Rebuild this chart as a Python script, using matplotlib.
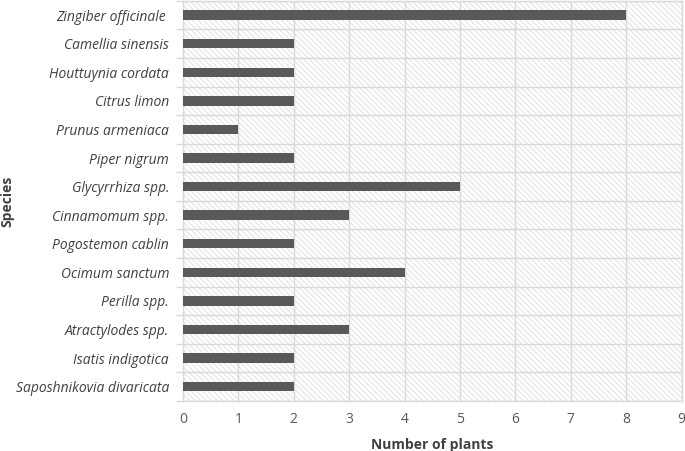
import numpy as np
import matplotlib.pyplot as plt
from matplotlib.patches import Rectangle

# Species, top to bottom as shown
species = ['Zingiber officinale ', 'Camellia sinensis', 'Houttuynia cordata',
           'Citrus limon', 'Prunus armeniaca', 'Piper nigrum',
           'Glycyrrhiza spp.', 'Cinnamomum spp.', 'Pogostemon cablin',
           'Ocimum sanctum', 'Perilla spp.', 'Atractylodes spp.',
           'Isatis indigotica', 'Saposhnikovia divaricata']
plants = [8, 2, 2, 2, 1, 2, 5, 3, 2, 4, 2, 3, 2, 2]
xticks = list(range(0, 10))

plt.rcParams['font.family'] = ['Open Sans', 'DejaVu Sans']
plt.rcParams['hatch.linewidth'] = 0.7

fig = plt.figure(figsize=(6.85, 4.51), dpi=100)
ax = fig.add_axes([0.267, 0.111, 0.728, 0.887])

n = len(species)
ypos = np.arange(n)[::-1]

# hatched plot area background
bg = Rectangle((0, 0), 1, 1, transform=ax.transAxes, facecolor='white',
               edgecolor='#e0e0e0', hatch='\\' * 6, linewidth=0, zorder=0)
ax.add_patch(bg)

ax.barh(ypos, plants, height=0.33, color='#595959', zorder=3)

ax.set_xlim(0, 9)
ax.set_ylim(-0.5, n - 0.5)
ax.set_xticks(xticks)
ax.set_xticklabels([str(t) for t in xticks], color='#595959', fontsize=10)
ax.set_yticks(ypos)
ax.set_yticklabels(species, style='italic', color='#404040', fontsize=10)
ax.set_yticks(np.arange(-0.5, n, 1), minor=True)

ax.tick_params(axis='x', length=0, pad=8)
ax.tick_params(axis='y', which='major', length=0, pad=10)
ax.tick_params(axis='y', which='minor', length=5, color='#d9d9d9', width=1)

ax.grid(axis='x', which='major', color='#d9d9d9', linewidth=1, zorder=1)
ax.grid(axis='y', which='minor', color='#d9d9d9', linewidth=1, zorder=1)
ax.set_axisbelow(True)

for s in ax.spines.values():
    s.set_color('#d9d9d9')
    s.set_linewidth(1)

ax.set_xlabel('Number of plants', fontweight='bold', color='#404040',
              fontsize=10, labelpad=8)
ax.set_ylabel('Species', fontweight='bold', color='#404040', fontsize=10)
ax.yaxis.set_label_coords(-0.338, 0.5)

fig.savefig('out.png', dpi=100)
